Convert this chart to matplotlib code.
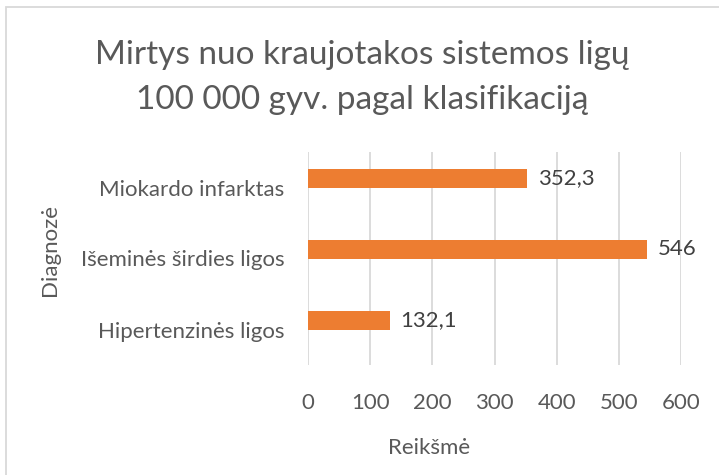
import matplotlib.pyplot as plt
import numpy as np
from matplotlib.patches import Rectangle

plt.rcParams['font.family'] = ['Lato', 'DejaVu Sans']

kategorijos = ['Miokardo infarktas', 'Išeminės širdies ligos', 'Hipertenzinės ligos']
reiksmes = [352.3, 546, 132.1]
etiketes = ['352,3', '546', '132,1']
xticks = [0, 100, 200, 300, 400, 500, 600]

oranzine = '#ED7D31'
pilka = '#595959'
tinklelis = '#D9D9D9'

W, H = 719, 475
fig = plt.figure(figsize=(W / 100, H / 100), dpi=100)

# remelis aplink diagrama (desine ir apacia nukirpta)
fig.patches.append(Rectangle((6 / W, -0.1), 1.2, (H - 7) / H + 0.1, transform=fig.transFigure,
                             fill=False, edgecolor=tinklelis, linewidth=1.3))

ax = fig.add_axes([308 / W, (H - 365) / H, (681 - 308) / W, (365 - 152) / H])

y = np.arange(len(kategorijos))
aukstis = 0.254
# stulpeliai kaip pirmoji grupes serija (antroji tuscia)
ax.barh(y - aukstis / 2, reiksmes, height=aukstis, color=oranzine, zorder=3)

for yi, v, t in zip(y, reiksmes, etiketes):
    ax.text(v + 17, yi - aukstis / 2, t, va='center', ha='left', fontsize=16, color='#404040')

ax.set_xlim(0, 600)
ax.set_ylim(len(kategorijos) - 0.5, -0.5)
ax.set_xticks(xticks)
ax.set_yticks(y)
ax.set_yticklabels(kategorijos)
ax.grid(axis='x', color=tinklelis, linewidth=1.3, zorder=0)
for s in ax.spines.values():
    s.set_visible(False)
ax.tick_params(axis='both', length=0, colors=pilka, labelsize=16)
ax.tick_params(axis='x', pad=20)
ax.tick_params(axis='y', pad=17)

fig.text(429 / W, 1 - 448 / H, 'Reikšmė', ha='center', va='center', fontsize=16, color=pilka)
fig.text(50 / W, 1 - 250 / H, 'Diagnozė', ha='center', va='center', rotation=90, fontsize=16, color=pilka)
fig.text(362 / W, 1 - 55 / H, 'Mirtys nuo kraujotakos sistemos ligų', ha='center', va='center',
         fontsize=24, color=pilka)
fig.text(362 / W, 1 - 100 / H, '100 000 gyv. pagal klasifikaciją', ha='center', va='center',
         fontsize=24, color=pilka)

fig.savefig('out.png', dpi=100)
